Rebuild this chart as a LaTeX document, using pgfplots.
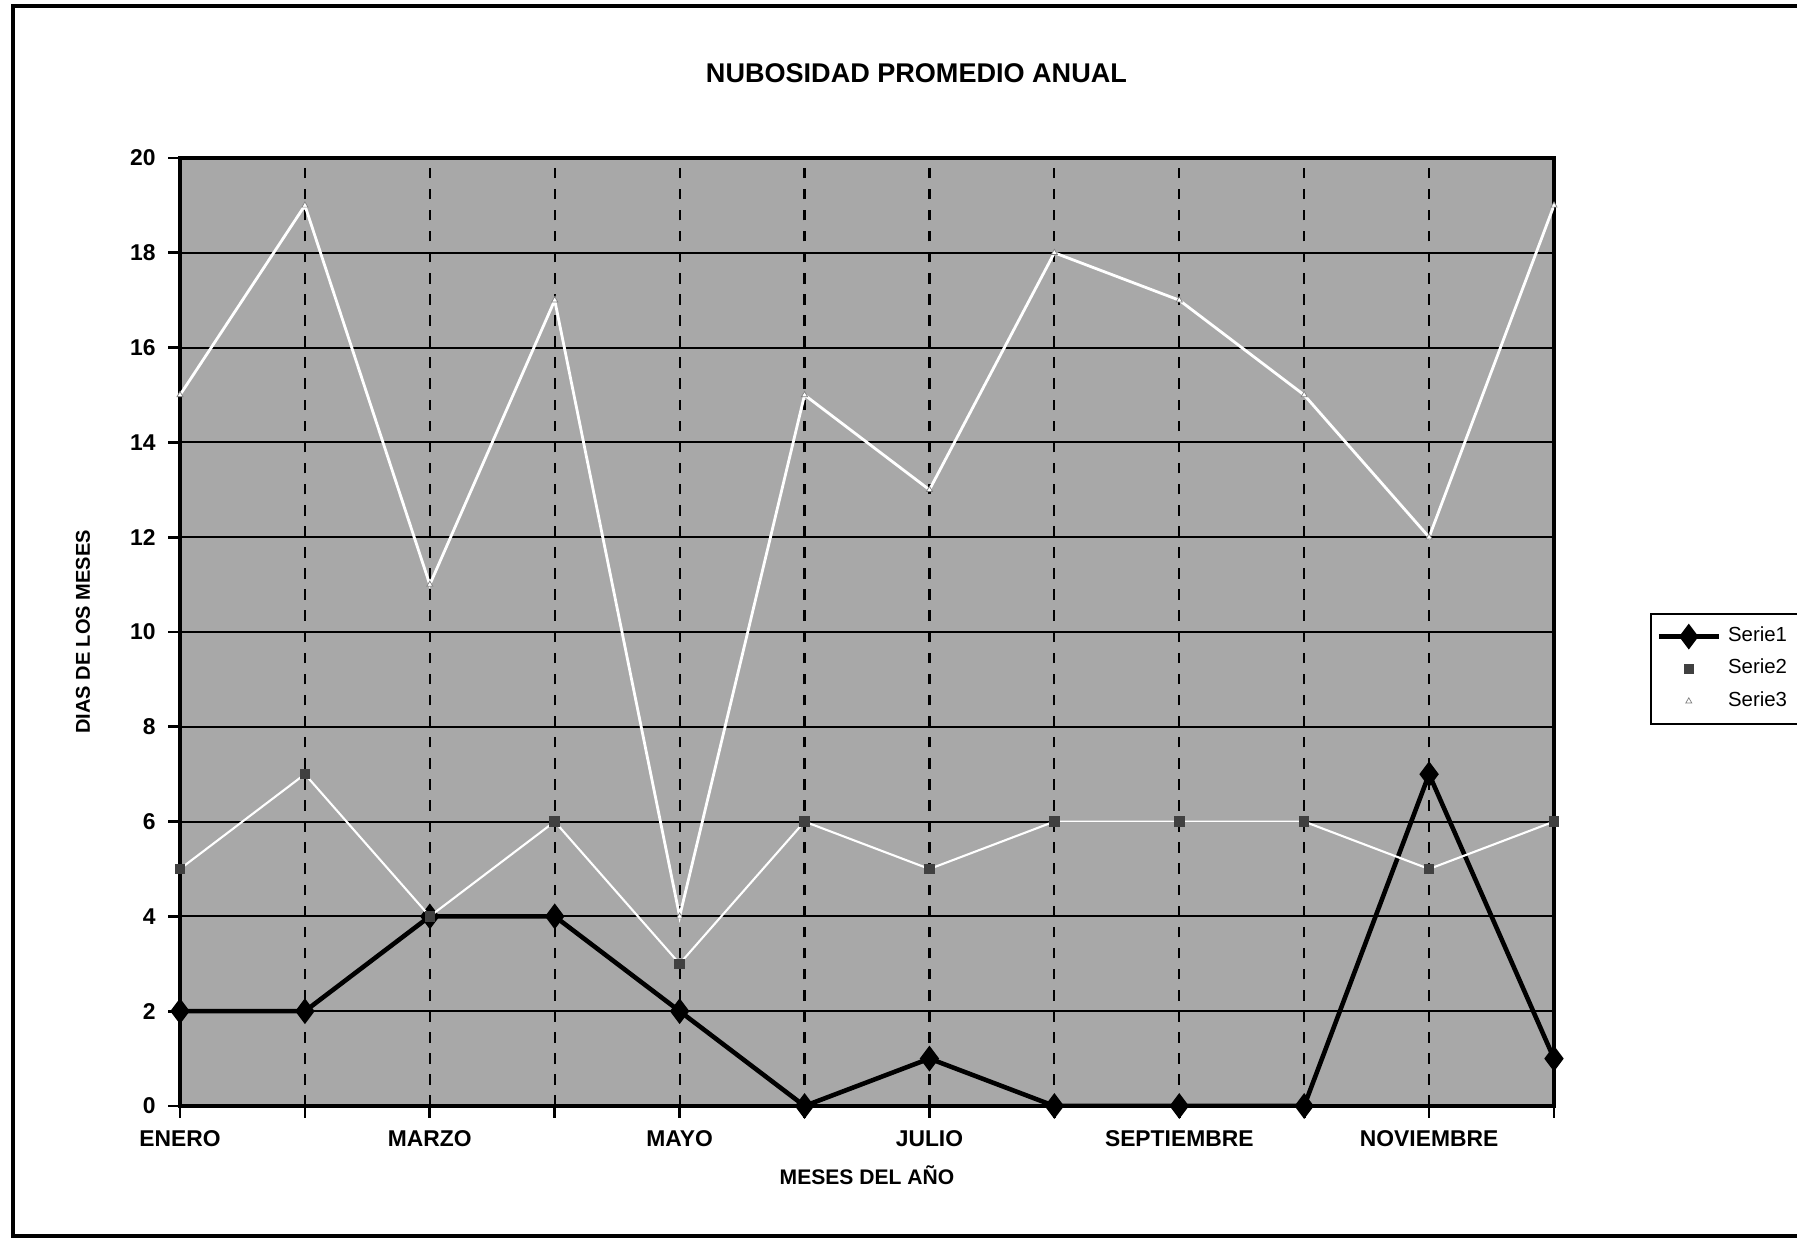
\documentclass[border=0pt]{standalone}
\usepackage{fontspec}
\setmainfont{Liberation Sans}
\usepackage{pgfplots}
\pgfplotsset{compat=1.18}

\pgfplotstableread{
x s1 s2 s3
0 2 5 15
1 2 7 19
2 4 4 11
3 4 6 17
4 2 3 4
5 0 6 15
6 1 5 13
7 0 6 18
8 0 6 17
9 0 6 15
10 7 5 12
11 1 6 19
}\nubosidad

\begin{document}
\begin{tikzpicture}
\useasboundingbox (0,0) rectangle (17.97,12.42);
\draw[line width=1.2pt] (0.13,0.06) rectangle (18.3,12.36);
\begin{axis}[
    at={(1.80cm,1.36cm)}, anchor=south west,
    scale only axis,
    width=13.74cm, height=9.48cm,
    xmin=0, xmax=11, ymin=0, ymax=20,
    xtick={0,...,11},
    xticklabels={ENERO,,MARZO,,MAYO,,JULIO,,SEPTIEMBRE,,NOVIEMBRE,},
    ytick={0,2,...,20},
    /pgf/number format/assume math mode=true,
    tick pos=left,
    tick align=outside,
    major tick length=0.12cm,
    tick style={black, line width=0.8pt},
    grid=major,
    x grid style={black, dashed, line width=0.6pt},
    y grid style={black, line width=0.6pt},
    axis background/.style={fill=black!34},
    axis line style={line width=1.2pt},
    ticklabel style={font=\bfseries\fontsize{6.5}{8}\selectfont},
    title={NUBOSIDAD PROMEDIO ANUAL},
    title style={at={(axis description cs:0.536,1.0675)}, anchor=center,
        font=\bfseries\fontsize{7.7}{9}\selectfont},
    xlabel={MESES DEL AÑO},
    xlabel style={at={(axis description cs:0.5,-0.0728)}, anchor=center,
        font=\bfseries\fontsize{6}{8}\selectfont},
    ylabel={DIAS DE LOS MESES},
    ylabel style={at={(axis description cs:-0.0706,0.5)}, anchor=center,
        font=\bfseries\fontsize{5.7}{7}\selectfont},
    legend style={at={(axis description cs:1.07,0.461)}, anchor=west,
        draw=black, line width=0.6pt, font=\fontsize{5.8}{7}\selectfont,
        inner sep=1.5pt, row sep=-0.5pt},
    legend cell align=left,
    clip mode=individual,
]
\addplot[black, line width=1.3pt, mark=diamond*, mark size=2.6pt]
    table[x=x, y=s1] {\nubosidad};
\addlegendentry{Serie1}
\addplot[white, line width=0.6pt, mark=square*, mark size=1.2pt,
    mark options={fill=black!75, draw=black!75}]
    table[x=x, y=s2] {\nubosidad};
\addlegendentry{Serie2}
\addplot[white, line width=0.8pt, mark=triangle*, mark size=1pt,
    mark options={fill=white, draw=black!50, line width=0.2pt}]
    table[x=x, y=s3] {\nubosidad};
\addlegendentry{Serie3}
\end{axis}
\end{tikzpicture}
\end{document}
